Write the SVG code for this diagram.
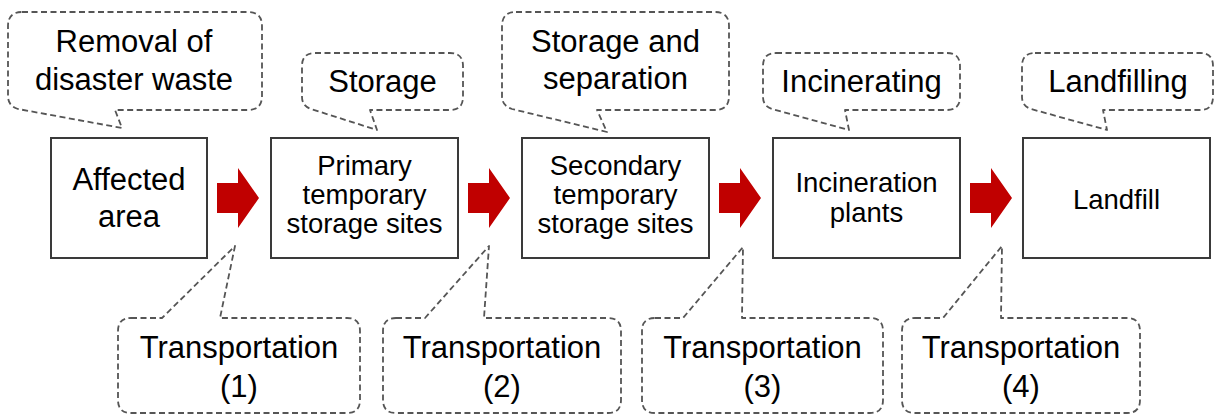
<svg xmlns="http://www.w3.org/2000/svg" width="1215" height="416" viewBox="0 0 1215 416">
<style>
.bg{fill:#fff}
.box{fill:#fff;stroke:#3a3a3a;stroke-width:2}
.call{fill:#fff;stroke:#555;stroke-width:1.8;stroke-dasharray:6 3.5;stroke-linejoin:round}
.arrow{fill:#C00000}
text{font-family:"Liberation Sans",Arial,sans-serif;fill:#000;text-anchor:middle}
.big{font-size:31px}
.mid{font-size:27.5px}
</style>
<rect class="bg" x="0" y="0" width="1215" height="416"/>

<g id="connectors">
  <path class="arrow" d="M217,183 H238 V168 L259,198 L238,228 V213 H217 Z"/>
  <path class="arrow" d="M468,183 H489 V168 L510,198 L489,228 V213 H468 Z"/>
  <path class="arrow" d="M719,183 H740 V168 L761,198 L740,228 V213 H719 Z"/>
  <path class="arrow" d="M970,183 H991 V168 L1012,198 L991,228 V213 H970 Z"/>
</g>

<g id="node-affected">
  <rect class="box" x="51" y="138" width="156" height="120"/>
  <text class="big" x="129" y="190">Affected</text>
  <text class="big" x="129" y="227">area</text>
</g>
<g id="node-primary">
  <rect class="box" x="271" y="138" width="187" height="120"/>
  <text class="mid" x="364.5" y="175">Primary</text>
  <text class="mid" x="364.5" y="204">temporary</text>
  <text class="mid" x="364.5" y="233">storage sites</text>
</g>
<g id="node-secondary">
  <rect class="box" x="522" y="138" width="187" height="120"/>
  <text class="mid" x="615.5" y="175">Secondary</text>
  <text class="mid" x="615.5" y="204">temporary</text>
  <text class="mid" x="615.5" y="233">storage sites</text>
</g>
<g id="node-incineration">
  <rect class="box" x="773" y="138" width="187" height="120"/>
  <text class="mid" x="866.5" y="192">Incineration</text>
  <text class="mid" x="866.5" y="222">plants</text>
</g>
<g id="node-landfill">
  <rect class="box" x="1023" y="138" width="187" height="120"/>
  <text class="mid" x="1116.5" y="209">Landfill</text>
</g>

<g id="callout-removal">
  <path class="call" d="M22,12 H248 Q262,12 262,26 V96 Q262,110 248,110 H115 L122,128 L18,109 Q8,106 8,96 V26 Q8,12 22,12 Z"/>
  <text class="big" x="134" y="52">Removal of</text>
  <text class="big" x="134" y="90">disaster waste</text>
</g>
<g id="callout-storage">
  <path class="call" d="M315,53 H450 Q463,53 463,66 V97 Q463,110 450,110 H370 L377,130 L311,109 Q302,106 302,97 V66 Q302,53 315,53 Z"/>
  <text class="big" x="382.5" y="92">Storage</text>
</g>
<g id="callout-separation">
  <path class="call" d="M516,12 H715 Q729,12 729,26 V96 Q729,110 715,110 H597 L607,132 L512,109 Q502,106 502,96 V26 Q502,12 516,12 Z"/>
  <text class="big" x="615.5" y="52">Storage and</text>
  <text class="big" x="615.5" y="89">separation</text>
</g>
<g id="callout-incinerating">
  <path class="call" d="M776,53 H947 Q960,53 960,66 V97 Q960,110 947,110 H845 L849,130 L772,109 Q763,106 763,97 V66 Q763,53 776,53 Z"/>
  <text class="big" x="861.5" y="92">Incinerating</text>
</g>
<g id="callout-landfilling">
  <path class="call" d="M1035,53 H1200 Q1213,53 1213,66 V97 Q1213,110 1200,110 H1103 L1107,130 L1031,109 Q1022,106 1022,97 V66 Q1022,53 1035,53 Z"/>
  <text class="big" x="1118" y="92">Landfilling</text>
</g>

<g id="callout-transport1">
  <path class="call" d="M131,318 H162 L235,246 L220,318 H347 Q360,318 360,331 V400 Q360,413 347,413 H131 Q118,413 118,400 V331 Q118,318 131,318 Z"/>
  <text class="big" x="239" y="358">Transportation</text>
  <text class="big" x="239" y="397">(1)</text>
</g>
<g id="callout-transport2">
  <path class="call" d="M396,318 H425 L489,246 L484,318 H608 Q621,318 621,331 V400 Q621,413 608,413 H396 Q383,413 383,400 V331 Q383,318 396,318 Z"/>
  <text class="big" x="502" y="358">Transportation</text>
  <text class="big" x="502" y="397">(2)</text>
</g>
<g id="callout-transport3">
  <path class="call" d="M655,318 H683 L743,247 L742,318 H870 Q883,318 883,331 V400 Q883,413 870,413 H655 Q642,413 642,400 V331 Q642,318 655,318 Z"/>
  <text class="big" x="762.5" y="358">Transportation</text>
  <text class="big" x="762.5" y="397">(3)</text>
</g>
<g id="callout-transport4">
  <path class="call" d="M915,318 H943 L1002,246 L1001,318 H1127 Q1140,318 1140,331 V400 Q1140,413 1127,413 H915 Q902,413 902,400 V331 Q902,318 915,318 Z"/>
  <text class="big" x="1021" y="358">Transportation</text>
  <text class="big" x="1021" y="397">(4)</text>
</g>
</svg>
